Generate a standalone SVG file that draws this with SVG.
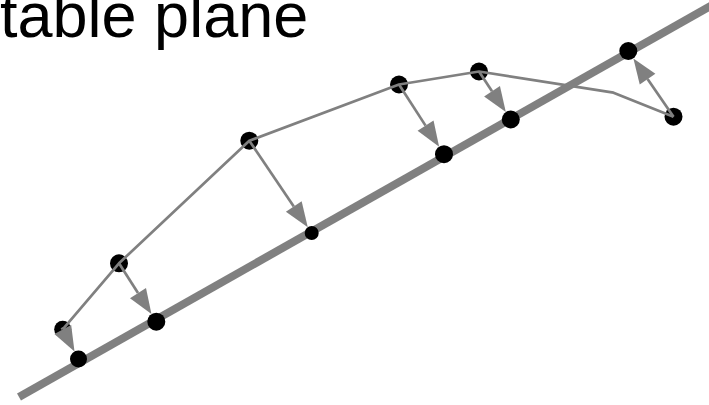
<svg xmlns="http://www.w3.org/2000/svg" width="709" height="405" viewBox="0 0 709 405">
  <style>
    .plane { stroke: #808080; stroke-width: 8; fill: none; }
    .curve { stroke: #808080; stroke-width: 2.7; fill: none; stroke-linejoin: round; }
    .proj { stroke: #808080; stroke-width: 2.7; fill: none; marker-end: url(#head); }
    .pt { fill: #000; }
    .label { font-family: "Liberation Sans", Arial, sans-serif; font-size: 63px; fill: #000; }
  </style>
  <defs>
    <!-- arrowhead: base at the line end, tip 25 units further on -->
    <marker id="head" markerUnits="userSpaceOnUse" markerWidth="26" markerHeight="20" refX="0" refY="9.5" orient="auto" overflow="visible">
      <path d="M0,0 L25,9.5 L0,19 Z" fill="#808080"/>
    </marker>
  </defs>

  <text class="label" x="0" y="37">table plane</text>

  <!-- the table plane, seen edge-on -->
  <line id="plane" class="plane" x1="19" y1="397" x2="714" y2="4"/>

  <!-- raw points -->
  <g id="p1"><circle class="pt" cx="62.7" cy="329.3" r="8.5"/></g>
  <g id="p2"><circle class="pt" cx="119" cy="263.3" r="9"/></g>
  <g id="p3"><circle class="pt" cx="249.3" cy="140.7" r="9"/></g>
  <g id="p4"><circle class="pt" cx="399" cy="84.5" r="9"/></g>
  <g id="p5"><circle class="pt" cx="479" cy="71.5" r="9"/></g>
  <g id="p6"><circle class="pt" cx="673.5" cy="116.7" r="9"/></g>

  <g id="connectors">
    <polyline class="curve" points="62.7,329.3 119,263.3 249.3,140.7 399,84.5 479,71.5 613.5,92.7 673.5,116.7"/>
    <line class="proj" x1="61.8" y1="327.6" x2="62.77" y2="329.43"/>
    <line class="proj" x1="119" y1="263.3" x2="138" y2="293.05"/>
    <line class="proj" x1="249.3" y1="140.7" x2="293.78" y2="206.49"/>
    <line class="proj" x1="399" y1="84.5" x2="425.56" y2="125.64"/>
    <line class="proj" x1="479" y1="71.5" x2="492.02" y2="91.16"/>
    <line class="proj" x1="673.5" y1="116.7" x2="647.57" y2="79.01"/>
  </g>

  <!-- projected points on the plane -->
  <g id="q1"><circle class="pt" cx="78.5" cy="359" r="8.5"/></g>
  <g id="q2"><circle class="pt" cx="156.3" cy="321.7" r="9"/></g>
  <g id="q3"><circle class="pt" cx="311.7" cy="233" r="7"/></g>
  <g id="q4"><circle class="pt" cx="444" cy="154.2" r="9"/></g>
  <g id="q5"><circle class="pt" cx="510.8" cy="119.5" r="9"/></g>
  <g id="q6"><circle class="pt" cx="628.3" cy="51" r="9"/></g>
</svg>
